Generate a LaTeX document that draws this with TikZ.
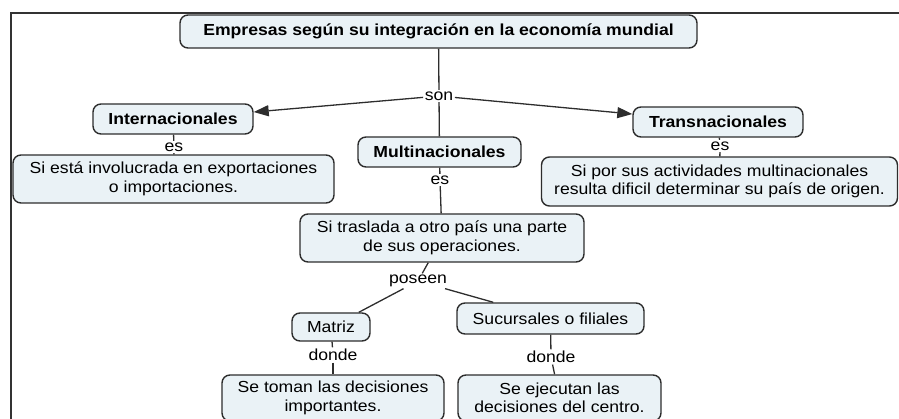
\documentclass[tikz,border=0pt]{standalone}
\usepackage{fontspec}
\setmainfont{Liberation Sans}[FakeStretch=1.1]
\usetikzlibrary{arrows.meta}
\definecolor{boxfill}{RGB}{234,242,246}
\definecolor{edge}{RGB}{45,45,45}
\begin{document}
\begin{tikzpicture}[x=1pt,y=-1pt,
  concept/.style={draw=edge,line width=1.4pt,fill=boxfill,rounded corners=8pt,
    inner sep=0pt,align=center,font=\fontsize{16}{18.5}\selectfont},
  title/.style={concept,font=\fontsize{16}{18.5}\selectfont\bfseries},
  lbl/.style={inner sep=1.5pt,font=\fontsize{16}{18}\selectfont},
  link/.style={draw=edge,line width=1.3pt},
  arr/.style={link,-{Triangle[length=15pt,width=11pt]}}]
\useasboundingbox (0,0) rectangle (899,419);
\clip (0,0) rectangle (899,419);
\draw[line width=2pt,draw=black!80] (11,13) rectangle (920,440);
% concepts
\node[title,minimum width=517,minimum height=33] (top) at (438.5,31.5) {Empresas según su integración en la economía mundial};
\node[title,minimum width=160,minimum height=30] (intl) at (173,119) {Internacionales};
\node[concept,minimum width=321,minimum height=48] (siesta) at (173.5,179) {Si está involucrada en exportaciones\\o importaciones.};
\node[title,minimum width=163,minimum height=30] (multi) at (439.5,152) {Multinacionales};
\node[concept,minimum width=284,minimum height=48] (traslada) at (442,238) {Si traslada a otro país una parte\\de sus operaciones.};
\node[title,minimum width=170,minimum height=30] (trans) at (718,122) {Transnacionales};
\node[concept,minimum width=356,minimum height=49] (sipor) at (719.5,181.5) {Si por sus actividades multinacionales\\resulta dificil determinar su país de origen.};
\node[concept,minimum width=78,minimum height=28] (matriz) at (331,327) {Matriz};
\node[concept,minimum width=222,minimum height=46] (toman) at (333,398) {Se toman las decisiones\\importantes.};
\node[concept,minimum width=187,minimum height=31] (sucur) at (550.5,318.5) {Sucursales o filiales};
\node[concept,minimum width=203,minimum height=46] (ejec) at (559.5,398) {Se ejecutan las\\decisiones del centro.};
% link labels
\node[lbl] (son) at (439,96) {son};
\node[lbl] (es1) at (174,147) {es};
\node[lbl] (es2) at (440,180) {es};
\node[lbl] (es3) at (720,146) {es};
\node[lbl] (poseen) at (418,281) {poseen};
\node[lbl] (donde1) at (333,355) {donde};
\node[lbl] (donde2) at (551,357) {donde};
% connectors
\draw[link] (top) -- (son);
\draw[arr] (son) -- (intl);
\draw[arr] (son) -- (trans);
\draw[link] (son) -- (multi);
\draw[link] (intl) -- (es1);
\draw[link] (es1) -- (siesta);
\draw[link] (multi) -- (es2);
\draw[link] (es2) -- (traslada);
\draw[link] (trans) -- (es3);
\draw[link] (es3) -- (sipor);
\draw[link] (traslada) -- (poseen);
\draw[link] (poseen) -- (matriz);
\draw[link] (poseen) -- (sucur);
\draw[link] (matriz) -- (donde1);
\draw[link] (donde1) -- (toman);
\draw[link] (sucur) -- (donde2);
\draw[link] (donde2) -- (ejec);
\end{tikzpicture}
\end{document}
